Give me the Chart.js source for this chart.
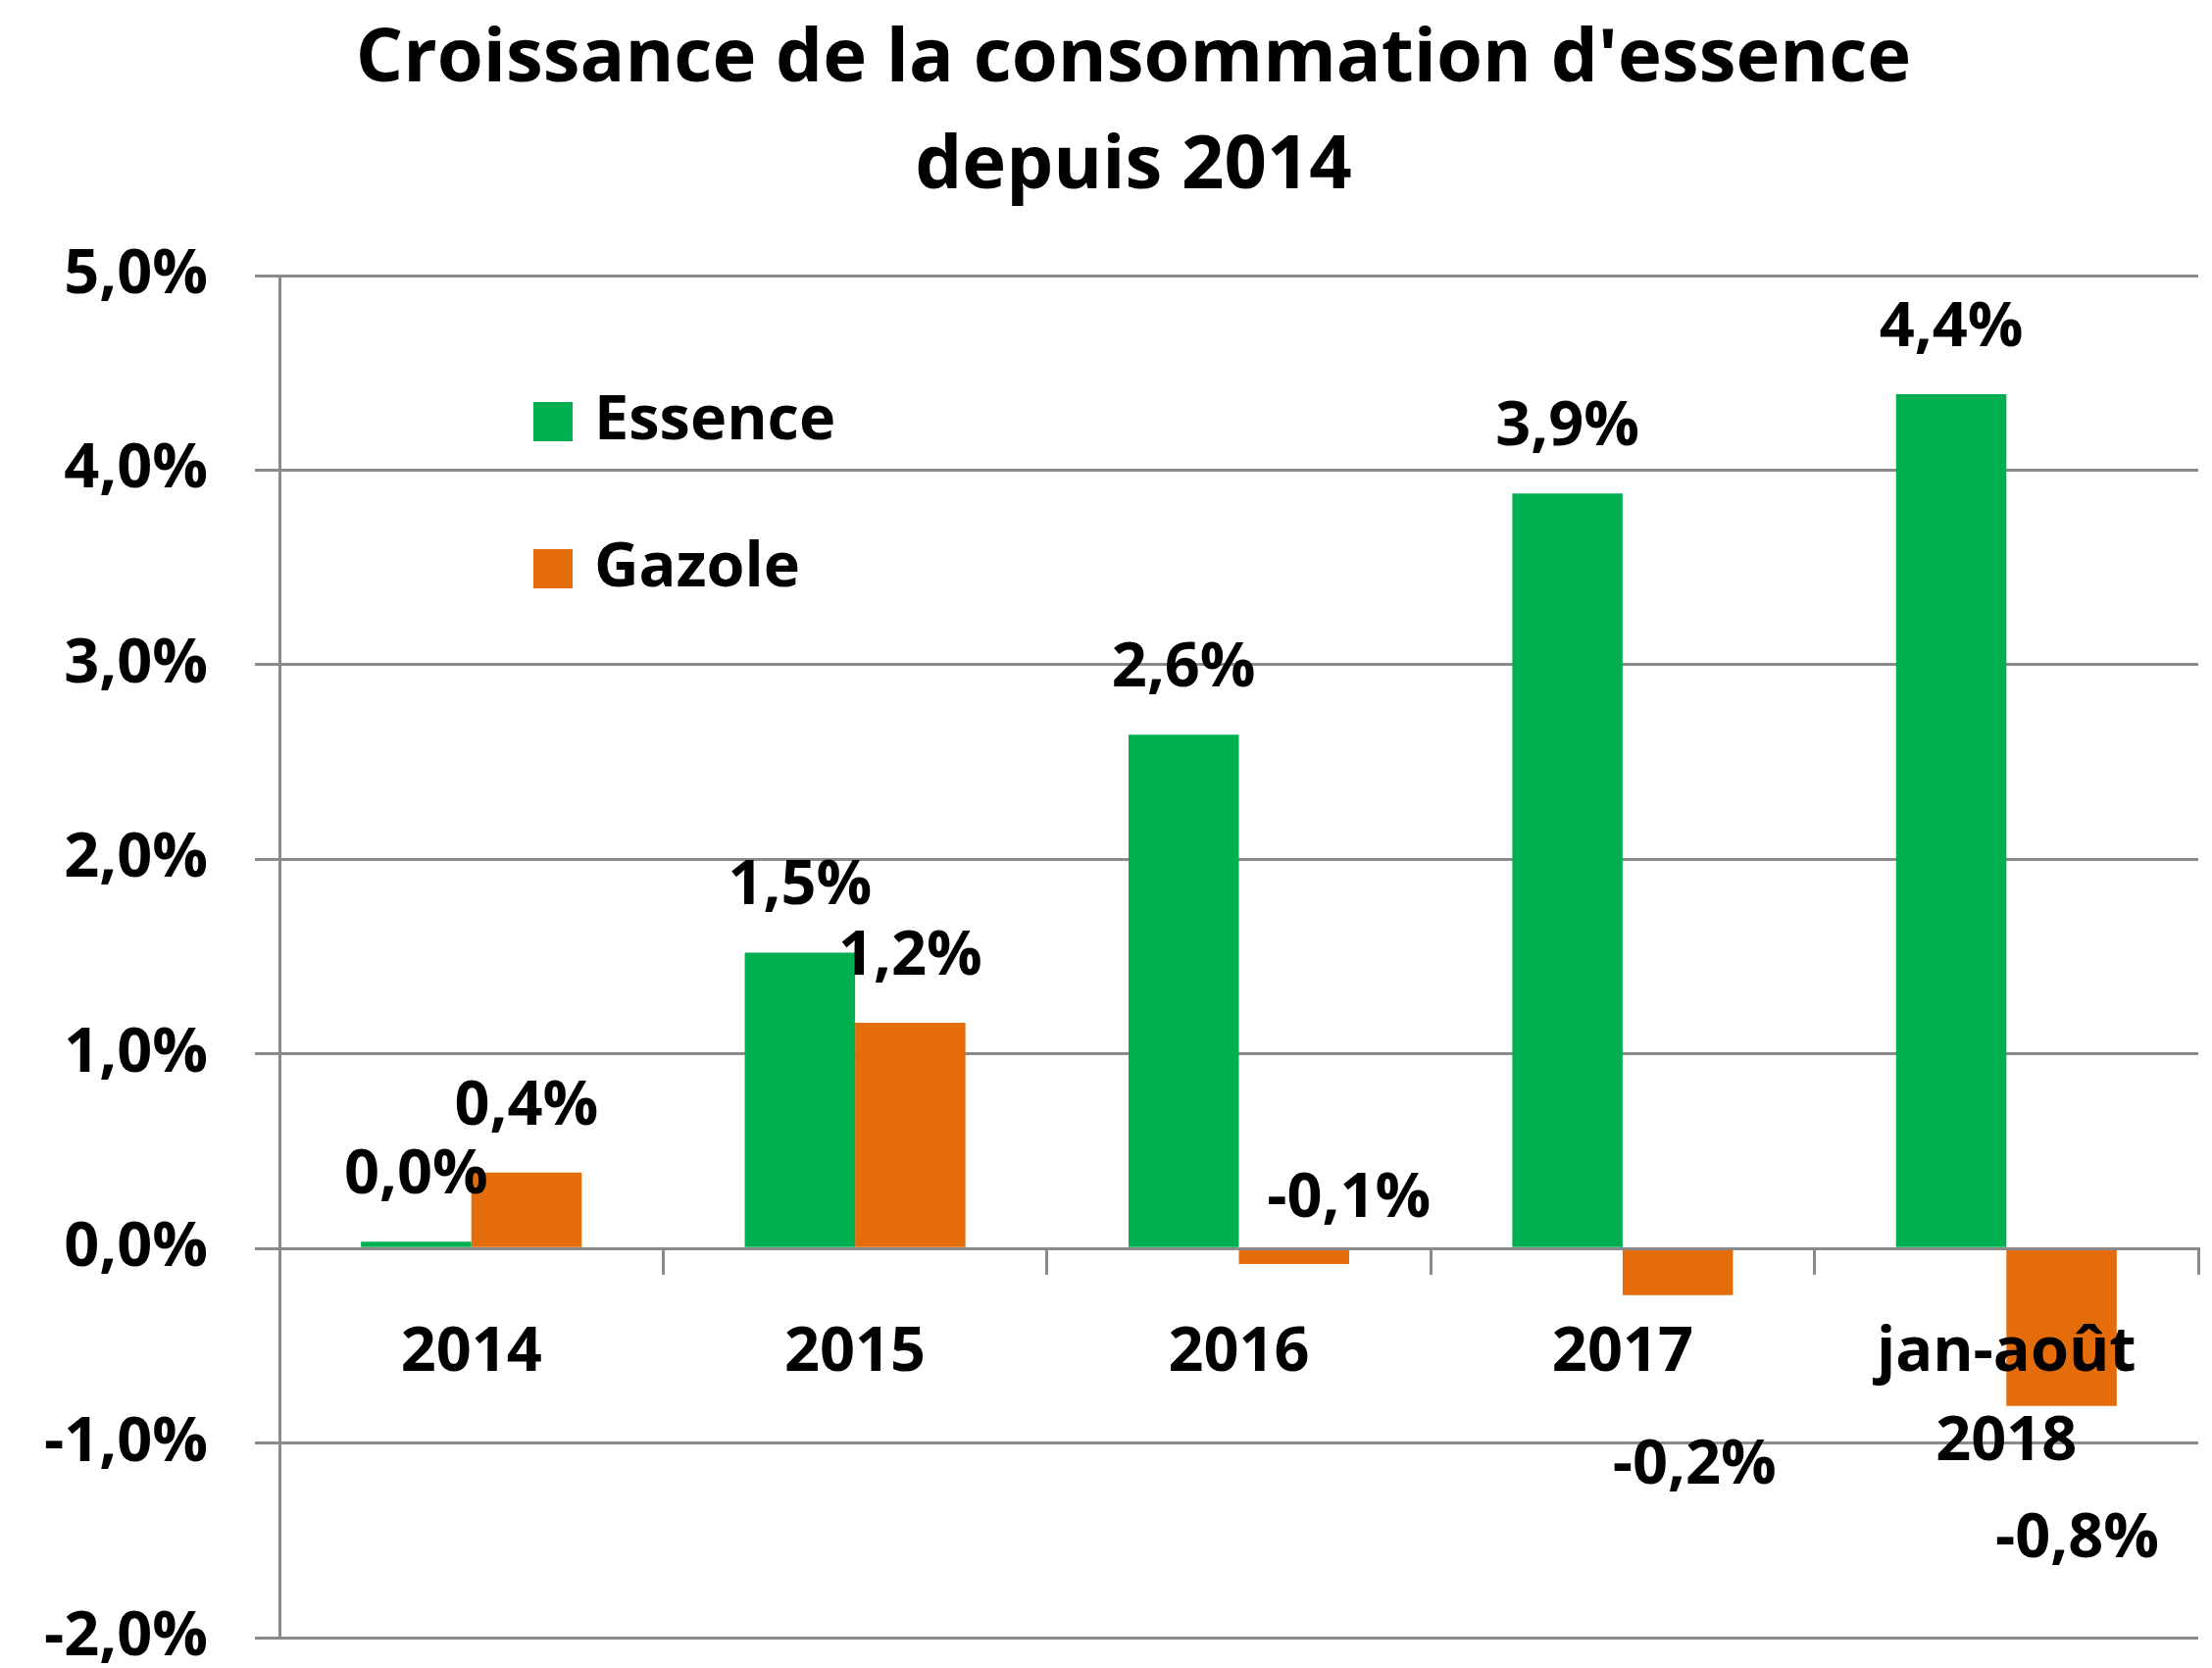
<!DOCTYPE html>
<html>
<head>
<meta charset="utf-8">
<script src="https://cdn.jsdelivr.net/npm/chart.js@4/dist/chart.umd.min.js"></script>
<style>
  html, body { margin: 0; padding: 0; background: #ffffff; }
  #wrap { width: 2256px; height: 1701px; }
</style>
</head>
<body>
<div id="wrap"><canvas id="c" width="2256" height="1701"></canvas></div>
<script>
// ---- Data ----
const titleLines = ["Croissance de la consommation d'essence", "depuis 2014"];
const categories = ['2014', '2015', '2016', '2017', ['jan-août', '2018']];
const seriesNames = ['Essence', 'Gazole'];
const essenceValues = [0.035, 1.52, 2.64, 3.88, 4.39];
const gazoleValues = [0.39, 1.16, -0.08, -0.24, -0.81];
const yMin = -2;
const yMax = 5;
const yStep = 1;

// ---- Styles ----
const GREEN = '#00B050';
const ORANGE = '#E46C0A';
const GRID = '#8a8a8a';
const FONT = "'Open Sans', 'Noto Sans', sans-serif";
const TXT_SIZE = 63;

function fmtPct(v) {
  return v.toFixed(1).replace('.', ',') + '%';
}

// label nudges for manually placed labels (dataset -> index -> [dx, dy])
const labelNudges = { 1: { 2: [56, -133], 3: [17, 107], 4: [16, 69] } };

const valueLabelsPlugin = {
  id: 'valueLabels',
  afterDatasetsDraw(chart) {
    const ctx = chart.ctx;
    ctx.save();
    ctx.font = `700 ${TXT_SIZE}px ${FONT}`;
    ctx.fillStyle = '#000';
    ctx.textAlign = 'center';
    ctx.textBaseline = 'middle';
    chart.data.datasets.forEach((ds, di) => {
      const meta = chart.getDatasetMeta(di);
      meta.data.forEach((bar, i) => {
        const v = ds.data[i];
        let x = bar.x;
        let y = v >= 0 ? bar.y - 67 : bar.y + 67;
        const n = labelNudges[di] && labelNudges[di][i];
        if (n) { x += n[0]; y += n[1]; }
        ctx.fillText(fmtPct(v), x, y);
      });
    });
    ctx.restore();
  }
};

const legendTitlePlugin = {
  id: 'legendTitle',
  afterDraw(chart) {
    const ctx = chart.ctx;
    ctx.save();
    // Title
    ctx.fillStyle = '#000';
    ctx.textAlign = 'center';
    ctx.textBaseline = 'alphabetic';
    ctx.font = `700 76px ${FONT}`;
    ctx.fillText(titleLines[0], 1156, 83);
    ctx.fillText(titleLines[1], 1156, 192);
    // Legend
    ctx.font = `700 ${TXT_SIZE}px ${FONT}`;
    ctx.textAlign = 'left';
    ctx.textBaseline = 'middle';
    chart.data.datasets.forEach((ds, i) => {
      const top = 410 + i * 150;
      ctx.fillStyle = ds.backgroundColor;
      ctx.fillRect(544, top, 40, 40);
      ctx.fillStyle = '#000';
      ctx.fillText(ds.label, 606, top + 20);
    });
    ctx.restore();
  }
};

new Chart(document.getElementById('c'), {
  type: 'bar',
  data: {
    labels: categories,
    datasets: [
      { label: seriesNames[0], data: essenceValues, backgroundColor: GREEN, borderWidth: 0,
        categoryPercentage: 0.575, barPercentage: 1.0 },
      { label: seriesNames[1], data: gazoleValues, backgroundColor: ORANGE, borderWidth: 0,
        categoryPercentage: 0.575, barPercentage: 1.0 }
    ]
  },
  options: {
    responsive: false,
    devicePixelRatio: 1,
    animation: false,
    layout: { padding: { top: 281, right: 14, bottom: 31, left: 0 } },
    plugins: {
      legend: { display: false },
      title: { display: false },
      tooltip: { enabled: false }
    },
    scales: {
      x: {
        position: { y: 0 },
        offset: true,
        grid: {
          display: true, offset: true, drawOnChartArea: false, drawTicks: true,
          tickLength: 25, color: GRID, lineWidth: 3, z: 1
        },
        border: { display: true, color: GRID, width: 3, z: 1 },
        ticks: {
          z: 2,
          color: '#000', padding: 37, maxRotation: 0, autoSkip: false,
          font: { family: FONT, size: TXT_SIZE, weight: '700', lineHeight: 1.44 }
        }
      },
      y: {
        min: yMin, max: yMax,
        afterFit(scale) {
          scale.width = 285;
          scale.paddingTop = 0;
          scale.paddingBottom = 0;
        },
        grid: { color: GRID, lineWidth: 3, drawTicks: true, tickLength: 25 },
        border: { display: true, color: GRID, width: 3 },
        ticks: {
          stepSize: yStep, color: '#000', padding: 48,
          font: { family: FONT, size: TXT_SIZE, weight: '700', lineHeight: 0.9 },
          callback: (v) => fmtPct(v)
        }
      }
    }
  },
  plugins: [valueLabelsPlugin, legendTitlePlugin]
});
</script>
</body>
</html>
